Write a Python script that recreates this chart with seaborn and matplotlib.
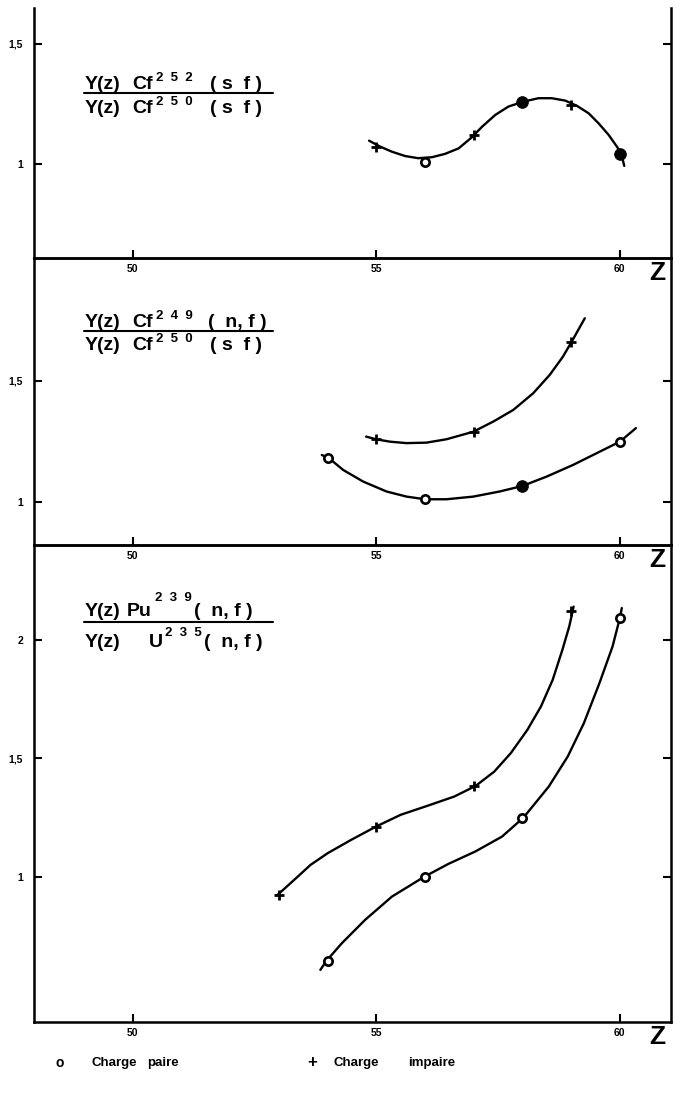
import numpy as np
import pandas as pd
import matplotlib
matplotlib.use("Agg")
import matplotlib.pyplot as plt
import matplotlib.transforms as mtransforms
import seaborn as sns

sns.set_theme(style="white")
plt.rcParams.update({
    "font.family": ["Liberation Sans", "DejaVu Sans"],
    "font.weight": "bold",
    "text.color": "black",
    "axes.edgecolor": "black",
    "axes.linewidth": 1.8,
    "xtick.color": "black",
    "ytick.color": "black",
    "xtick.labelcolor": "black",
    "ytick.labelcolor": "black",
})

# ---- data ----
z_ticks = [50, 55, 60]
z_tick_labels = ["50", "55", "60"]

# panel 1 : Cf252 (sf) / Cf250 (sf)
cf252_even_z = [56, 58, 60]
cf252_even_y = [1.01, 1.26, 1.042]
cf252_odd_z = [55, 57, 59]
cf252_odd_y = [1.072, 1.12, 1.245]
cf252_curve_z = [54.85, 55.08, 55.32, 55.59, 55.86, 56.14, 56.41, 56.69, 56.96, 57.17, 57.44,
                 57.71, 58.02, 58.33, 58.6, 58.88, 59.12, 59.36, 59.56, 59.77, 59.94, 60.03, 60.09]
cf252_curve_y = [1.097, 1.072, 1.051, 1.033, 1.024, 1.028, 1.042, 1.065, 1.111, 1.155, 1.204,
                 1.239, 1.26, 1.274, 1.274, 1.264, 1.242, 1.211, 1.17, 1.121, 1.072, 1.042, 0.992]
cf252_yticks = [1.0, 1.5]
cf252_ytick_labels = ["1", "1,5"]

# panel 2 : Cf249 (n,f) / Cf250 (sf)
cf249_even_z = [54, 56, 58, 60]
cf249_even_y = [1.18, 1.011, 1.066, 1.249]
cf249_odd_z = [55, 57, 59]
cf249_odd_y = [1.259, 1.29, 1.662]
cf249_odd_curve_z = [54.79, 54.99, 55.28, 55.62, 56.03, 56.44, 56.99, 57.4, 57.81, 58.22,
                     58.56, 58.83, 59.01, 59.28]
cf249_odd_curve_y = [1.27, 1.259, 1.249, 1.243, 1.245, 1.259, 1.29, 1.332, 1.38, 1.449,
                     1.525, 1.60, 1.662, 1.759]
cf249_even_curve_z = [53.88, 54.03, 54.32, 54.73, 55.21, 55.62, 56.0, 56.44, 56.99, 57.53,
                      58.0, 58.5, 59.04, 59.52, 60.0, 60.33]
cf249_even_curve_y = [1.194, 1.18, 1.132, 1.084, 1.043, 1.022, 1.011, 1.011, 1.022, 1.043,
                      1.066, 1.105, 1.153, 1.201, 1.249, 1.305]
cf249_yticks = [1.0, 1.5]
cf249_ytick_labels = ["1", "1,5"]

# panel 3 : Pu239 (n,f) / U235 (n,f)
pu_even_z = [54, 56, 58, 60]
pu_even_y = [0.647, 0.999, 1.25, 2.092]
pu_odd_z = [53, 55, 57, 59]
pu_odd_y = [0.924, 1.212, 1.384, 2.12]
pu_odd_curve_z = [52.97, 53.31, 53.65, 54.0, 54.48, 54.99, 55.5, 56.05, 56.6, 57.04, 57.42,
                  57.76, 58.1, 58.38, 58.62, 58.82, 58.96, 59.03, 59.05]
pu_odd_curve_y = [0.924, 0.987, 1.051, 1.10, 1.156, 1.212, 1.262, 1.30, 1.339, 1.384, 1.444,
                  1.522, 1.62, 1.719, 1.831, 1.958, 2.056, 2.12, 2.14]
pu_even_curve_z = [53.85, 53.98, 54.29, 54.77, 55.32, 55.97, 56.48, 57.03, 57.58, 58.02,
                   58.54, 58.93, 59.26, 59.58, 59.85, 60.0, 60.04]
pu_even_curve_y = [0.608, 0.647, 0.72, 0.819, 0.917, 0.999, 1.055, 1.107, 1.17, 1.25,
                   1.381, 1.508, 1.648, 1.817, 1.972, 2.092, 2.134]
pu_yticks = [1.0, 1.5, 2.0]
pu_ytick_labels = ["1", "1,5", "2"]

# ---- layout (pixels of the 681x1093 page) ----
W, H = 681, 1093


def fx(px):
    return px / W


def fy(py):
    return 1 - py / H


fig = plt.figure(figsize=(W / 100, H / 100), dpi=100)

panels = [
    # top px, bottom px, ylim, filled circles
    (8, 258, (0.608, 1.65), {58, 60}),
    (258, 545, (0.822, 2.008), {58}),
    (545, 1022, (0.388, 2.40), set()),
]
axes = []
for top, bot, ylim, _ in panels:
    ax = fig.add_axes([fx(34), fy(bot), fx(671) - fx(34), (bot - top) / H])
    ax.set_facecolor("none")
    ax.set_xlim(47.97, 61.05)
    ax.set_ylim(*ylim)
    axes.append(ax)
axes[0].spines["top"].set_visible(False)


def draw_curve(ax, z, y):
    df = pd.DataFrame({"Z": z, "ratio": y})
    sns.lineplot(data=df, x="Z", y="ratio", sort=False, estimator=None,
                 color="black", lw=1.7, ax=ax)


def draw_even(ax, z, y, filled=()):
    df = pd.DataFrame({"Z": z, "ratio": y})
    open_df = df[~df["Z"].isin(filled)]
    fill_df = df[df["Z"].isin(filled)]
    sns.scatterplot(data=open_df, x="Z", y="ratio", marker="o", s=36,
                    facecolor="white", edgecolor="black", linewidth=1.9,
                    zorder=3, ax=ax)
    if len(fill_df):
        sns.scatterplot(data=fill_df, x="Z", y="ratio", marker="o", s=70,
                        color="black", edgecolor="black", zorder=3, ax=ax)


def draw_odd(ax, z, y):
    df = pd.DataFrame({"Z": z, "ratio": y})
    sns.scatterplot(data=df, x="Z", y="ratio", marker="+", s=55,
                    color="black", linewidth=2.0, zorder=3, ax=ax)


ax1, ax2, ax3 = axes
draw_curve(ax1, cf252_curve_z, cf252_curve_y)
draw_even(ax1, cf252_even_z, cf252_even_y, panels[0][3])
draw_odd(ax1, cf252_odd_z, cf252_odd_y)

draw_curve(ax2, cf249_odd_curve_z, cf249_odd_curve_y)
draw_curve(ax2, cf249_even_curve_z, cf249_even_curve_y)
draw_even(ax2, cf249_even_z, cf249_even_y, panels[1][3])
draw_odd(ax2, cf249_odd_z, cf249_odd_y)

draw_curve(ax3, pu_odd_curve_z, pu_odd_curve_y)
draw_curve(ax3, pu_even_curve_z, pu_even_curve_y)
draw_even(ax3, pu_even_z, pu_even_y, panels[2][3])
draw_odd(ax3, pu_odd_z, pu_odd_y)

yticks = [(cf252_yticks, cf252_ytick_labels),
          (cf249_yticks, cf249_ytick_labels),
          (pu_yticks, pu_ytick_labels)]
for ax, (yt, ytl) in zip(axes, yticks):
    ax.set_xlabel("")
    ax.set_ylabel("")
    ax.set_xticks(z_ticks)
    ax.set_xticklabels(z_tick_labels, fontsize=7.5, fontweight="bold")
    ax.set_yticks(yt)
    ax.set_yticklabels(ytl, fontsize=7.5, fontweight="bold")
    ax.tick_params(axis="x", direction="in", length=6, width=1.5, pad=4,
                   bottom=True, top=False)
    ax.tick_params(axis="y", direction="in", length=6, width=1.5, pad=8,
                   left=True, right=True)
    off = mtransforms.offset_copy(ax.transAxes, fig=fig, x=-6, y=-3, units="dots")
    ax.text(1.0, 0, "Z", transform=off, fontsize=19, fontweight="bold",
            color="black", ha="right", va="top")
    ax.grid(False)

# ratio labels: (text, x px, baseline px, size)
label_pieces = [
    ("Y(z)", 85, 89, 14), ("Cf", 132, 89, 14), ("2  5  2", 156, 81, 9.5), ("( s  f )", 210, 89, 14),
    ("Y(z)", 85, 113, 14), ("Cf", 132, 113, 14), ("2  5  0", 156, 105, 9.5), ("( s  f )", 210, 113, 14),
    ("Y(z)", 85, 327, 14), ("Cf", 132, 327, 14), ("2  4  9", 156, 319, 9.5), ("(  n, f )", 208, 327, 14),
    ("Y(z)", 85, 350, 14), ("Cf", 132, 350, 14), ("2  5  0", 156, 342, 9.5), ("( s  f )", 210, 350, 14),
    ("Y(z)", 85, 616, 14), ("Pu", 127, 616, 14), ("2  3  9", 155, 601, 9.5), ("(  n, f )", 194, 616, 14),
    ("Y(z)", 85, 647, 14), ("U", 149, 647, 14), ("2  3  5", 165, 636, 9.5), ("(  n, f )", 204, 647, 14),
]
for txt, x, base, size in label_pieces:
    fig.text(fx(x), fy(base), txt, fontsize=size, fontweight="bold",
             ha="left", va="baseline")
for line_y in (93, 331, 622):
    fig.add_artist(plt.Line2D([fx(84), fx(273)], [fy(line_y), fy(line_y)],
                              color="black", lw=1.5))

# legend line
fig.text(fx(60), fy(1063), "o", fontsize=10, fontweight="bold", ha="center", va="center")
fig.text(fx(91), fy(1063), "Charge", fontsize=9.5, fontweight="bold", ha="left", va="center")
fig.text(fx(147), fy(1063), "paire", fontsize=9.5, fontweight="bold", ha="left", va="center")
fig.text(fx(312), fy(1063), "+", fontsize=12, fontweight="bold", ha="center", va="center")
fig.text(fx(333), fy(1063), "Charge", fontsize=9.5, fontweight="bold", ha="left", va="center")
fig.text(fx(408), fy(1063), "impaire", fontsize=9.5, fontweight="bold", ha="left", va="center")

fig.savefig("out.png", dpi=100)
